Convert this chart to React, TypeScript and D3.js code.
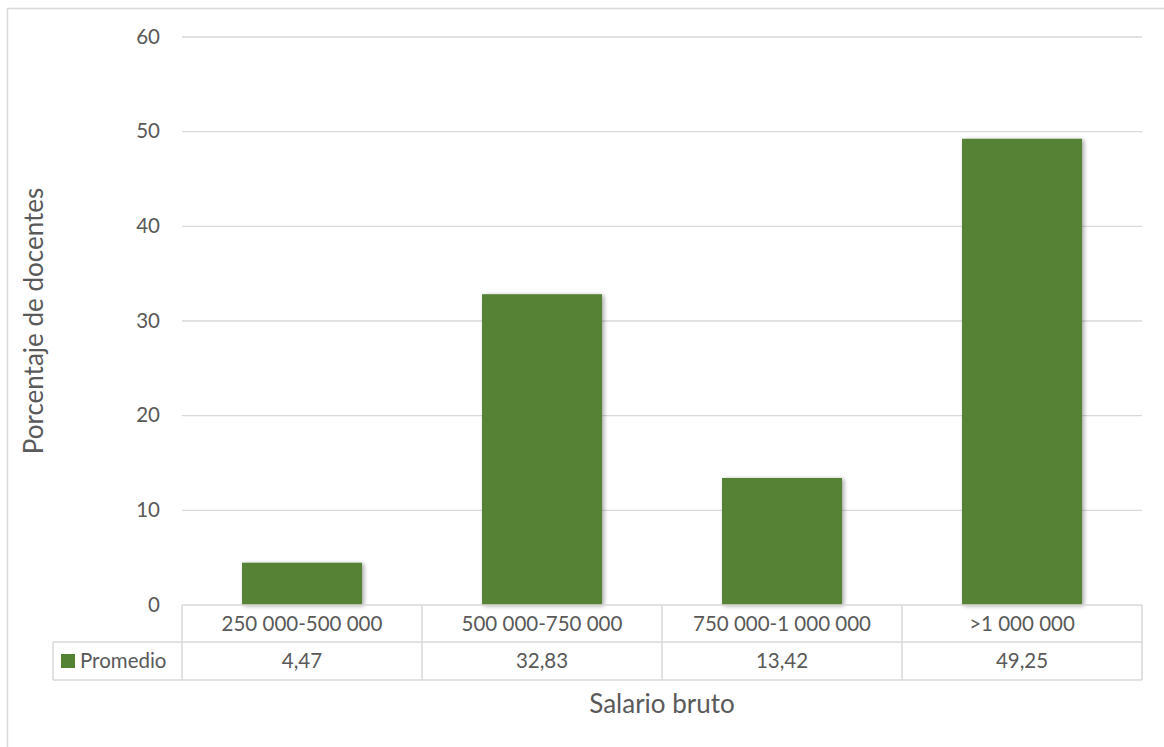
import React from "react";
import * as d3 from "d3";

const categories = ["250 000-500 000", "500 000-750 000", "750 000-1 000 000", ">1 000 000"];
const values = [4.47, 32.83, 13.42, 49.25];
const valueLabels = ["4,47", "32,83", "13,42", "49,25"];
const yTicks = [0, 10, 20, 30, 40, 50, 60];
const seriesName = "Promedio";
const xTitle = "Salario bruto";
const yTitle = "Porcentaje de docentes";

const W = 1164;
const H = 747;
const FONT = "Lato, 'Open Sans', sans-serif";
const TXT = "#595959";
const GRID = "#d9d9d9";
const GREEN = "#548235";
const FS = 20.5;
const TFS = 26;

export default function App() {
  const left = 182, right = 1142, top = 37, bottom = 605;
  const x = d3.scaleBand<string>().domain(categories).range([left, right]).paddingInner(0).paddingOuter(0);
  const y = d3.scaleLinear().domain([0, 60]).range([bottom, top]);
  const bw = x.bandwidth() * 0.5;
  const row1 = 642, row2 = 680, legLeft = 53;

  return (
    <svg width={W} height={H} style={{ position: "absolute", left: 0, top: 0 }}>
      <defs>
        <filter id="sh" x="-20%" y="-20%" width="140%" height="140%">
          <feDropShadow dx="2" dy="1" stdDeviation="2" floodColor="#000" floodOpacity="0.35" />
        </filter>
      </defs>
      <rect x={0} y={0} width={W} height={H} fill="#fff" />
      <rect x={7.5} y={8.5} width={W + 10} height={H + 10} fill="none" stroke={GRID} strokeWidth={1.5} />
      {yTicks.map((t) => (
        <g key={t}>
          {t > 0 && <line x1={left} x2={right} y1={y(t)} y2={y(t)} stroke={GRID} strokeWidth={1.3} />}
          <text x={160} y={y(t) - 0.5} dy="0.35em" textAnchor="end" fontFamily={FONT} fontSize={FS} fill={TXT}>
            {t}
          </text>
        </g>
      ))}
      {categories.map((c, i) => (
        <rect key={c} x={x(c)! + (x.bandwidth() - bw) / 2} y={y(values[i])} width={bw} height={bottom - y(values[i])} fill={GREEN} filter="url(#sh)" />
      ))}
      {/* data table */}
      <g stroke={GRID} strokeWidth={1.5} fill="none">
        <line x1={left} x2={right} y1={bottom} y2={bottom} />
        <line x1={legLeft} x2={right} y1={row1} y2={row1} />
        <line x1={legLeft} x2={right} y1={row2} y2={row2} />
        <line x1={legLeft} x2={legLeft} y1={row1} y2={row2} />
        {categories.map((c) => (
          <line key={c} x1={x(c)!} x2={x(c)!} y1={bottom} y2={row2} />
        ))}
        <line x1={right} x2={right} y1={bottom} y2={row2} />
      </g>
      {categories.map((c, i) => (
        <g key={c}>
          <text x={x(c)! + x.bandwidth() / 2} y={(bottom + row1) / 2} dy="0.35em" textAnchor="middle" fontFamily={FONT} fontSize={FS} fill={TXT}>
            {c}
          </text>
          <text x={x(c)! + x.bandwidth() / 2} y={(row1 + row2) / 2} dy="0.35em" textAnchor="middle" fontFamily={FONT} fontSize={FS} fill={TXT}>
            {valueLabels[i]}
          </text>
        </g>
      ))}
      <rect x={61} y={654} width={14} height={14} fill={GREEN} />
      <text x={80} y={(row1 + row2) / 2} dy="0.35em" fontFamily={FONT} fontSize={FS} fill={TXT}>
        {seriesName}
      </text>
      <text x={(left + right) / 2} y={704} dy="0.35em" textAnchor="middle" fontFamily={FONT} fontSize={TFS} fill={TXT}>
        {xTitle}
      </text>
      <text transform={`translate(34,${(top + bottom) / 2}) rotate(-90)`} dy="0.35em" textAnchor="middle" fontFamily={FONT} fontSize={TFS} fill={TXT}>
        {yTitle}
      </text>
    </svg>
  );
}
